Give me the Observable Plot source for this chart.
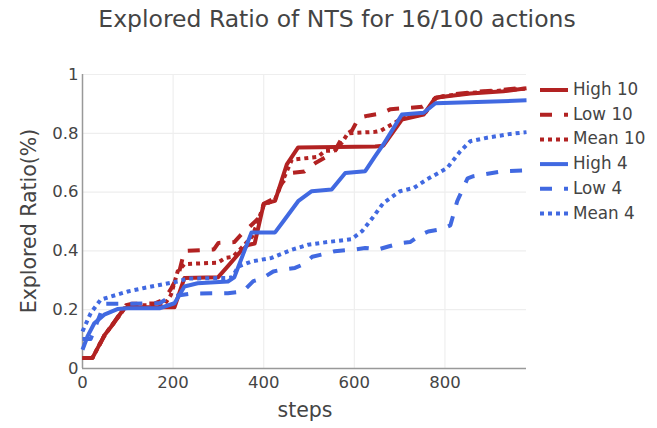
<!DOCTYPE html>
<html>
<head>
<meta charset="utf-8">
<script src="https://cdn.jsdelivr.net/npm/d3@7"></script>
<script src="https://cdn.jsdelivr.net/npm/@observablehq/plot@0.6"></script>
<style>
  html, body { margin: 0; padding: 0; background: #fff; }
  #chart { position: relative; width: 657px; height: 428px; }
  svg { font-family: "DejaVu Sans", sans-serif; }
</style>
</head>
<body>
<div id="chart"></div>
<script>
const titleText = "Explored Ratio of NTS for 16/100 actions";
const xLabel = "steps";
const yLabel = "Explored Ratio(%)";
const xTicks = [0, 200, 400, 600, 800];
const yTicks = [0, 0.2, 0.4, 0.6, 0.8, 1];

const seriesNames = ["High 10", "Low 10", "Mean 10", "High 4", "Low 4", "Mean 4"];
const seriesColors = ["#b22222", "#b22222", "#b22222", "#4169e1", "#4169e1", "#4169e1"];
const seriesDash = ["none", "12,12", "4,4", "none", "12,12", "4,4"];

const high10Steps  = [0, 22, 48, 66, 92, 110, 203, 225, 299, 321, 350, 365, 380, 400, 425, 451, 476, 646, 664, 705, 753, 779, 805, 856, 929, 980];
const high10Values = [0.036, 0.036, 0.112, 0.148, 0.205, 0.208, 0.208, 0.308, 0.31, 0.348, 0.40, 0.42, 0.425, 0.56, 0.57, 0.694, 0.752, 0.755, 0.758, 0.847, 0.864, 0.921, 0.926, 0.935, 0.943, 0.953];

const low10Steps  = [0, 22, 48, 96, 110, 160, 180, 195, 212, 225, 290, 300, 335, 350, 388, 400, 425, 440, 460, 490, 515, 555, 575, 595, 610, 630, 660, 680, 705, 750, 780, 805, 860, 930, 980];
const low10Values = [0.036, 0.036, 0.11, 0.215, 0.22, 0.222, 0.235, 0.27, 0.32, 0.40, 0.405, 0.427, 0.43, 0.455, 0.51, 0.56, 0.58, 0.63, 0.665, 0.67, 0.70, 0.735, 0.79, 0.81, 0.853, 0.86, 0.868, 0.882, 0.885, 0.89, 0.92, 0.93, 0.94, 0.948, 0.957];

const mean10Steps  = [0, 22, 48, 96, 110, 180, 195, 210, 225, 299, 315, 332, 354, 375, 400, 425, 445, 462, 520, 535, 558, 573, 586, 646, 657, 705, 755, 780, 805, 860, 930, 980];
const mean10Values = [0.036, 0.036, 0.112, 0.21, 0.215, 0.215, 0.25, 0.33, 0.355, 0.36, 0.376, 0.38, 0.415, 0.45, 0.555, 0.575, 0.65, 0.71, 0.72, 0.74, 0.742, 0.77, 0.80, 0.805, 0.808, 0.85, 0.866, 0.92, 0.928, 0.938, 0.946, 0.952];

const high4Steps  = [0, 11, 26, 48, 77, 100, 170, 203, 225, 254, 321, 335, 373, 425, 443, 476, 506, 550, 580, 624, 646, 664, 705, 753, 779, 980];
const high4Values = [0.064, 0.109, 0.154, 0.183, 0.202, 0.205, 0.205, 0.222, 0.279, 0.29, 0.296, 0.31, 0.463, 0.463, 0.50, 0.569, 0.603, 0.609, 0.665, 0.671, 0.722, 0.762, 0.864, 0.87, 0.902, 0.912];

const low4Steps  = [0, 18, 48, 84, 170, 195, 239, 321, 354, 377, 396, 421, 443, 469, 487, 507, 535, 557, 602, 624, 653, 675, 701, 723, 745, 763, 790, 812, 827, 850, 863, 885, 929, 980];
const low4Values = [0.10, 0.10, 0.22, 0.22, 0.222, 0.245, 0.255, 0.256, 0.262, 0.297, 0.306, 0.33, 0.337, 0.342, 0.354, 0.38, 0.39, 0.399, 0.405, 0.41, 0.405, 0.415, 0.426, 0.43, 0.453, 0.466, 0.473, 0.487, 0.569, 0.647, 0.654, 0.66, 0.671, 0.674];

const mean4Steps  = [0, 18, 40, 63, 100, 136, 173, 210, 232, 321, 330, 344, 373, 417, 462, 498, 535, 594, 617, 639, 664, 701, 731, 760, 805, 834, 856, 893, 945, 980];
const mean4Values = [0.126, 0.188, 0.234, 0.245, 0.262, 0.274, 0.285, 0.296, 0.306, 0.308, 0.31, 0.347, 0.364, 0.376, 0.404, 0.421, 0.429, 0.44, 0.467, 0.51, 0.563, 0.603, 0.614, 0.643, 0.682, 0.739, 0.773, 0.785, 0.798, 0.804];

const allSteps = [high10Steps, low10Steps, mean10Steps, high4Steps, low4Steps, mean4Steps];
const allValues = [high10Values, low10Values, mean10Values, high4Values, low4Values, mean4Values];

const rows = [];
seriesNames.forEach((name, i) => {
  allSteps[i].forEach((s, j) => rows.push({series: name, step: s, value: allValues[i][j]}));
});

const lineMarks = seriesNames.map((name, i) =>
  Plot.line(rows.filter(d => d.series === name), {
    x: "step", y: "value",
    stroke: seriesColors[i], strokeWidth: 4,
    strokeDasharray: seriesDash[i],
    strokeLinecap: "butt", strokeLinejoin: "round"
  })
);

const W = 657, H = 428;
const mL = 82, mR = 131, mT = 74, mB = 60;

const chart = Plot.plot({
  width: W, height: H,
  marginLeft: mL, marginRight: mR, marginTop: mT, marginBottom: mB,
  style: {fontFamily: "DejaVu Sans, sans-serif", fontSize: "16.5px", color: "#444", background: "#fff"},
  x: {domain: [0, 980], label: null},
  y: {domain: [0, 1], label: null},
  marks: [
    Plot.gridX(xTicks.slice(1), {stroke: "#eee", strokeOpacity: 1, strokeWidth: 1.2}),
    Plot.gridY(yTicks.slice(1), {stroke: "#eee", strokeOpacity: 1, strokeWidth: 1.2}),
    Plot.axisX(xTicks, {tickSize: 0, tickPadding: 8, fontSize: 16.5, fill: "#444", label: null}),
    Plot.axisY(yTicks, {tickSize: 0, tickPadding: 4, fontSize: 16.5, fill: "#444", label: null, tickFormat: d => String(d)}),
    Plot.ruleY([0], {stroke: "#999", strokeWidth: 1.5}),
    Plot.ruleX([0], {stroke: "#999", strokeWidth: 1.5}),
    ...lineMarks
  ]
});

document.getElementById("chart").appendChild(chart);

const svg = d3.select(chart);
svg.append("text")
  .attr("x", 337).attr("y", 20)
  .attr("text-anchor", "middle").attr("dominant-baseline", "middle")
  .attr("fill", "#444").style("font-size", "23.5px")
  .text(titleText);

svg.append("text")
  .attr("x", (mL + W - mR) / 2 + 1).attr("y", 411)
  .attr("text-anchor", "middle").attr("dominant-baseline", "middle")
  .attr("fill", "#444").style("font-size", "20.5px")
  .text(xLabel);

svg.append("text")
  .attr("transform", `translate(30, ${(mT + H - mB) / 2}) rotate(-90)`)
  .attr("text-anchor", "middle").attr("dominant-baseline", "middle")
  .attr("fill", "#444").style("font-size", "20.5px")
  .text(yLabel);

const leg = svg.append("g");
seriesNames.forEach((name, i) => {
  const y = 90 + 24.7 * i;
  leg.append("line")
    .attr("x1", 540).attr("x2", 568).attr("y1", y).attr("y2", y)
    .attr("stroke", seriesColors[i]).attr("stroke-width", 4)
    .attr("stroke-dasharray", seriesDash[i] === "none" ? null : seriesDash[i]);
  leg.append("text")
    .attr("x", 573).attr("y", y)
    .attr("text-anchor", "start")
    .attr("dominant-baseline", "middle")
    .attr("fill", "#444").style("font-size", "16.8px")
    .text(name);
});
</script>
</body>
</html>
